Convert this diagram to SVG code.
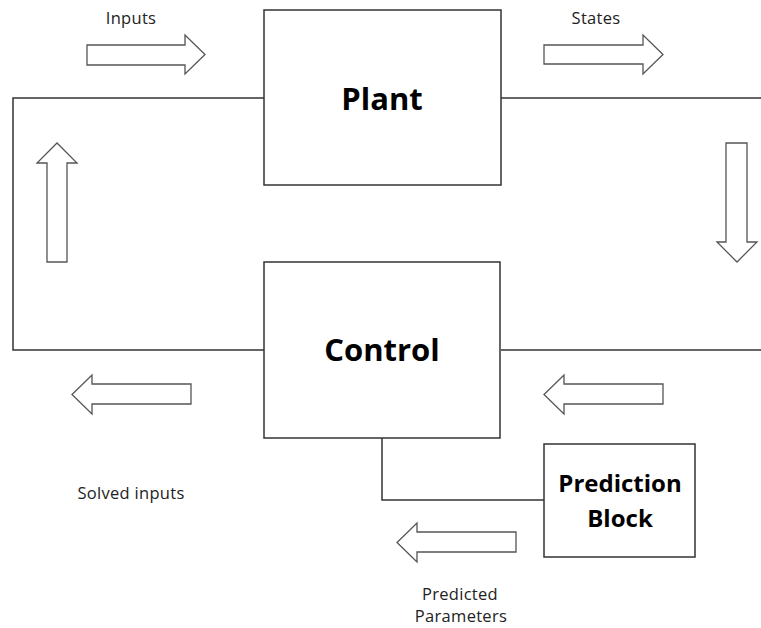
<svg xmlns="http://www.w3.org/2000/svg" width="761" height="628" viewBox="0 0 761 628">
<style>
.box{fill:#fff;stroke:#333;stroke-width:1.5}
.wire{fill:none;stroke:#333;stroke-width:1.5}
.arrow{fill:#fff;stroke:#555;stroke-width:1.3;stroke-linejoin:miter}
.lbl{font-family:"Open Sans","Liberation Sans",sans-serif;font-size:16.5px;letter-spacing:0.3px;fill:#222;text-anchor:middle}
.big{font-family:"Open Sans","Liberation Sans",sans-serif;font-weight:bold;fill:#000;text-anchor:middle}
</style>
<rect width="761" height="628" fill="#fff"/>
<g id="connectors">
<polyline class="wire" points="264,98 13,98 13,350 264,350"/>
<line class="wire" x1="501" y1="98" x2="761" y2="98"/>
<line class="wire" x1="501" y1="350" x2="761" y2="350"/>
<polyline class="wire" points="382,438 382,500 544,500"/>
</g>
<g id="arrows">
<polygon id="arrow-inputs" class="arrow" points="87,45 185,45 185,35 205,54.5 185,74 185,65 87,65"/>
<polygon id="arrow-states" class="arrow" points="544,45 643,45 643,35 663,54.5 643,74 643,64 544,64"/>
<polygon id="arrow-up" class="arrow" points="47,262 47,163 37,163 57,143 77,163 67,163 67,262"/>
<polygon id="arrow-down" class="arrow" points="726,143 747,143 747,242 757,242 737,262 717,242 726,242"/>
<polygon id="arrow-solved" class="arrow" points="191,384 92,384 92,375 72,394.5 92,414 92,404 191,404"/>
<polygon id="arrow-feedback" class="arrow" points="663,384 564,384 564,375 544,394.5 564,414 564,404 663,404"/>
<polygon id="arrow-predicted" class="arrow" points="516,532 417,532 417,523 397,542.5 417,562 417,552 516,552"/>
</g>
<g id="plant">
<rect class="box" x="264" y="10" width="237" height="175"/>
<text class="big" x="382" y="110" font-size="31">Plant</text>
</g>
<g id="control">
<rect class="box" x="264" y="262" width="236" height="176"/>
<text class="big" x="382" y="361" font-size="31">Control</text>
</g>
<g id="prediction">
<rect class="box" x="544" y="444" width="151" height="113"/>
<text class="big" x="620" y="492" font-size="24">Prediction</text>
<text class="big" x="620" y="527" font-size="24">Block</text>
</g>
<g id="labels">
<text class="lbl" x="131" y="24">Inputs</text>
<text class="lbl" x="596" y="24">States</text>
<text class="lbl" x="131" y="499">Solved inputs</text>
<text class="lbl" x="460" y="600">Predicted</text>
<text class="lbl" x="461" y="622">Parameters</text>
</g>
</svg>
